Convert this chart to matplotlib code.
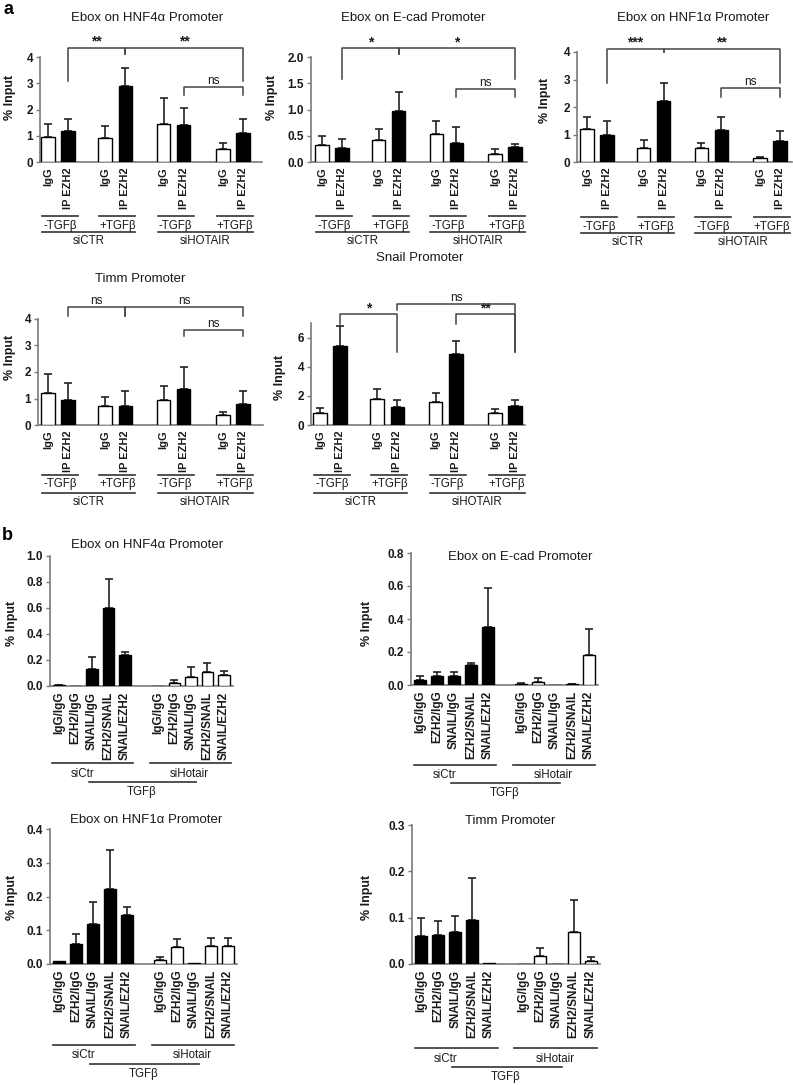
import numpy as np
import matplotlib
matplotlib.use('Agg')
import matplotlib.pyplot as plt
from matplotlib.transforms import blended_transform_factory

plt.rcParams['font.family'] = ['Liberation Sans', 'DejaVu Sans']

W, H = 793, 1085

#panel a data
a_labels = ['IgG', 'IP EZH2'] * 4
a_pos = [0, 1, 2.85, 3.85, 5.75, 6.75, 8.7, 9.7]
a_fill = ['white', 'black'] * 4
a_groups = ['-TGF\u03b2', '+TGF\u03b2', '-TGF\u03b2', '+TGF\u03b2']
a_sites = ['siCTR', 'siHOTAIR']

hnf4_mean = [0.95, 1.2, 0.9, 2.9, 1.45, 1.4, 0.5, 1.12]
hnf4_err = [0.5, 0.45, 0.48, 0.7, 1.0, 0.65, 0.22, 0.5]
ecad_mean = [0.33, 0.26, 0.42, 0.98, 0.53, 0.36, 0.16, 0.28]
ecad_err = [0.17, 0.17, 0.2, 0.35, 0.25, 0.31, 0.08, 0.07]
hnf1_mean = [1.2, 0.98, 0.52, 2.22, 0.5, 1.17, 0.15, 0.78]
hnf1_err = [0.45, 0.52, 0.28, 0.66, 0.18, 0.45, 0.05, 0.34]
timm_mean = [1.22, 0.95, 0.72, 0.7, 0.95, 1.35, 0.38, 0.8]
timm_err = [0.71, 0.65, 0.33, 0.6, 0.53, 0.85, 0.12, 0.5]
snail_mean = [0.85, 5.4, 1.8, 1.25, 1.6, 4.9, 0.8, 1.3]
snail_err = [0.35, 1.4, 0.65, 0.47, 0.6, 0.85, 0.32, 0.45]

#significance brackets: (bar i, bar j, height, left leg end, right leg end, text)
hnf4_sig = [(1, 3, 4.35, 3.1, 4.1, '**'), (3, 7, 4.35, 4.1, 3.1, '**'), (5, 7, 2.85, 2.55, 2.55, 'ns')]
ecad_sig = [(1, 3, 2.17, 1.58, 2.06, '*'), (3, 7, 2.17, 2.06, 1.58, '*'), (5, 7, 1.4, 1.24, 1.24, 'ns')]
hnf1_sig = [(1, 3, 4.12, 2.86, 4.0, '***'), (3, 7, 4.12, 4.0, 2.86, '**'), (5, 7, 2.7, 2.37, 2.37, 'ns')]
timm_sig = [(1, 3, 4.45, 4.1, 4.1, 'ns'), (3, 7, 4.45, 4.1, 4.1, 'ns'), (5, 7, 3.6, 3.37, 3.37, 'ns')]
snail_sig = [(1, 3, 7.6, 6.9, 5.0, '*'), (3, 7, 8.3, 7.9, 5.0, 'ns'), (5, 7, 7.6, 6.9, 5.0, '**')]

#panel b data
b_labels = ['IgG/IgG', 'EZH2/IgG', 'SNAIL/IgG', 'EZH2/SNAIL', 'SNAIL/EZH2'] * 2
b_pos = [0, 1, 2, 3, 4, 6, 7, 8, 9, 10]
b_fill = ['black'] * 5 + ['white'] * 5

hnf4b_mean = [0.005, 0.003, 0.13, 0.6, 0.235, 0.0, 0.025, 0.07, 0.11, 0.085]
hnf4b_err = [0.005, 0, 0.09, 0.22, 0.03, 0, 0.025, 0.075, 0.07, 0.03]
ecadb_mean = [0.03, 0.055, 0.055, 0.12, 0.35, 0.008, 0.02, 0.0, 0.005, 0.18]
ecadb_err = [0.025, 0.025, 0.025, 0.015, 0.235, 0.005, 0.025, 0, 0.003, 0.16]
hnf1b_mean = [0.008, 0.06, 0.118, 0.222, 0.145, 0.013, 0.05, 0.004, 0.052, 0.053]
hnf1b_err = [0, 0.03, 0.065, 0.116, 0.025, 0.009, 0.023, 0, 0.025, 0.023]
timmb_mean = [0.06, 0.062, 0.069, 0.096, 0.003, 0.0, 0.017, 0.001, 0.07, 0.007]
timmb_err = [0.039, 0.031, 0.034, 0.09, 0, 0, 0.018, 0, 0.069, 0.008]

fig = plt.figure(figsize=(W / 100, H / 100), dpi=100)
SPINE = '#7a7a7a'
TXT = '#1a1a1a'


def fy(py):
    return 1 - py / H


def add_ax(left, right, y0, ytop):
    ax = fig.add_axes([left / W, fy(y0), (right - left) / W, (y0 - ytop) / H])
    for s in ['top', 'right']:
        ax.spines[s].set_visible(False)
    for s in ['left', 'bottom']:
        ax.spines[s].set_color(SPINE)
        ax.spines[s].set_linewidth(1.2)
    ax.tick_params(axis='y', length=3, width=1, color=SPINE, labelsize=8.5, pad=2, labelcolor=TXT)
    ax.tick_params(axis='x', length=0, pad=4, labelcolor=TXT)
    return ax


def draw_bars(ax, pos, mean, err, fill, labels, width, lsize):
    ax.bar(pos, mean, width=width, color=fill, edgecolor='black', linewidth=1.0, zorder=3)
    keep = [k for k in range(len(pos)) if err[k] > 0]
    ax.errorbar([pos[k] for k in keep], [mean[k] for k in keep],
                yerr=[[0] * len(keep), [err[k] for k in keep]], fmt='none',
                ecolor='#222222', elinewidth=1.2, capsize=3, capthick=1.2, zorder=2)
    ax.set_xticks(pos)
    ax.set_xticklabels(labels, rotation=90, fontweight='bold', va='top', fontsize=lsize)


def draw_sig(ax, pos, sig):
    for i, j, y, yl, yr, txt in sig:
        xi, xj = pos[i], pos[j]
        ax.plot([xi, xi, xj, xj], [yl, y, y, yr], color='#444444', lw=1.1, clip_on=False, zorder=4)
        if txt == 'ns':
            ax.text((xi + xj) / 2, y, txt, ha='center', va='bottom', fontsize=8.5, color=TXT)
        else:
            ax.text((xi + xj) / 2, y - 0.01 * ax.get_ylim()[1], txt, ha='center', va='bottom',
                    fontsize=10, fontweight='bold', color=TXT)


def a_group_labels(ax, pos, y_short, y_text, y_long, y_site):
    tr = blended_transform_factory(ax.transData, fig.transFigure)
    ends = []
    for g in range(4):
        x0 = pos[2 * g] - 0.3
        x1 = pos[2 * g + 1] + 0.5
        ends.append((x0, x1))
        ax.plot([x0, x1], [fy(y_short)] * 2, color='#333333', lw=1.2, transform=tr, clip_on=False)
        ax.text((x0 + x1) / 2, fy(y_text), a_groups[g], ha='center', va='center',
                fontsize=8.3, color=TXT, transform=tr)
    for s in range(2):
        x0 = ends[2 * s][0]
        x1 = ends[2 * s + 1][1]
        ax.plot([x0, x1], [fy(y_long)] * 2, color='#333333', lw=1.2, transform=tr, clip_on=False)
        ax.text((x0 + x1) / 2, fy(y_site), a_sites[s], ha='center', va='center',
                fontsize=8.3, color=TXT, transform=tr)


def b_group_labels(ax, y_line, y_text, y_tgf, y_tgf_text):
    tr = blended_transform_factory(ax.transData, fig.transFigure)
    ax.plot([-0.4, 4.5], [fy(y_line)] * 2, color='#333333', lw=1.2, transform=tr, clip_on=False)
    ax.plot([5.5, 10.4], [fy(y_line)] * 2, color='#333333', lw=1.2, transform=tr, clip_on=False)
    ax.plot([1.8, 8.3], [fy(y_tgf)] * 2, color='#333333', lw=1.2, transform=tr, clip_on=False)
    ax.text(1.45, fy(y_text), 'siCtr', ha='center', va='center', fontsize=8.3, color=TXT, transform=tr)
    ax.text(7.9, fy(y_text), 'siHotair', ha='center', va='center', fontsize=8.3, color=TXT, transform=tr)
    ax.text(5.0, fy(y_tgf_text), 'TGF\u03b2', ha='center', va='center', fontsize=8.3, color=TXT, transform=tr)


def ylabel(x, y):
    fig.text(x / W, fy(y), '% Input', rotation=90, ha='center', va='center',
             fontsize=9, fontweight='bold', color=TXT)


def title(x, y, s):
    fig.text(x / W, fy(y), s, ha='center', va='center', fontsize=9.5, color=TXT)


def panel_a(rect, xlim, top, ticks, fmt, mean, err, sig, lab_y):
    ax = add_ax(*rect)
    draw_bars(ax, a_pos, mean, err, a_fill, a_labels, 0.68, 7.9)
    ax.set_xlim(*xlim)
    ax.set_ylim(0, top)
    ax.set_yticks(ticks)
    ax.set_yticklabels([fmt % t for t in ticks], fontweight='bold')
    draw_sig(ax, a_pos, sig)
    a_group_labels(ax, a_pos, *lab_y)
    return ax


def panel_b(rect, top, mean, err, lab_y):
    ax = add_ax(*rect)
    draw_bars(ax, b_pos, mean, err, b_fill, b_labels, 0.72, 8.5)
    ax.set_xlim(-0.55, 10.55)
    ax.set_ylim(0, top)
    ticks = np.round(np.arange(0, top + 1e-9, 0.1 if top <= 0.4 else 0.2), 2)
    ax.set_yticks(ticks)
    ax.set_yticklabels(['%.1f' % t for t in ticks], fontweight='bold')
    b_group_labels(ax, *lab_y)
    return ax


#panel a, first row
row1 = (216, 226, 232, 241)
panel_a((40, 262, 162, 57), (-0.4, 10.65), 4, [0, 1, 2, 3, 4], '%d', hnf4_mean, hnf4_err, hnf4_sig, row1)
panel_a((311, 527, 162, 57), (-0.55, 10.3), 2.0, [0, 0.5, 1.0, 1.5, 2.0], '%.1f', ecad_mean, ecad_err, ecad_sig, row1)
panel_a((577, 792, 162, 52), (-0.5, 10.3), 4, [0, 1, 2, 3, 4], '%d', hnf1_mean, hnf1_err, hnf1_sig, (217, 227, 233, 242))
title(147, 18, 'Ebox on HNF4\u03b1 Promoter')
title(413, 18, 'Ebox on E-cad Promoter')
title(693, 18, 'Ebox on HNF1\u03b1 Promoter')
ylabel(10, 97)
ylabel(272, 97)
ylabel(545, 100)

#panel a, second row
row2 = (475, 484, 493, 502)
panel_a((38, 263, 425, 319), (-0.5, 10.7), 4, [0, 1, 2, 3, 4], '%d', timm_mean, timm_err, timm_sig, row2)
panel_a((311, 525, 425, 323), (-0.45, 10.2), 7, [0, 2, 4, 6], '%d', snail_mean, snail_err, snail_sig, row2)
title(140, 279, 'Timm Promoter')
title(420, 258, 'Snail Promoter')
ylabel(10, 357)
ylabel(280, 377)

#panel b
panel_b((50, 233, 686, 556), 1.0, hnf4b_mean, hnf4b_err, (763, 774, 782, 792))
panel_b((411, 598, 685, 553), 0.8, ecadb_mean, ecadb_err, (765, 775, 783, 793))
panel_b((50, 237, 964, 829), 0.4, hnf1b_mean, hnf1b_err, (1045, 1055, 1064, 1074))
panel_b((412, 600, 964, 825), 0.3, timmb_mean, timmb_err, (1048, 1059, 1067, 1077))
title(147, 545, 'Ebox on HNF4\u03b1 Promoter')
title(520, 557, 'Ebox on E-cad Promoter')
title(146, 820, 'Ebox on HNF1\u03b1 Promoter')
title(510, 821, 'Timm Promoter')
ylabel(12, 623)
ylabel(367, 623)
ylabel(12, 897)
ylabel(367, 897)

fig.text(8 / W, fy(9), 'a', ha='center', va='center', fontsize=13, fontweight='bold')
fig.text(7 / W, fy(535), 'b', ha='center', va='center', fontsize=13, fontweight='bold')

fig.savefig('out.png', dpi=100)
